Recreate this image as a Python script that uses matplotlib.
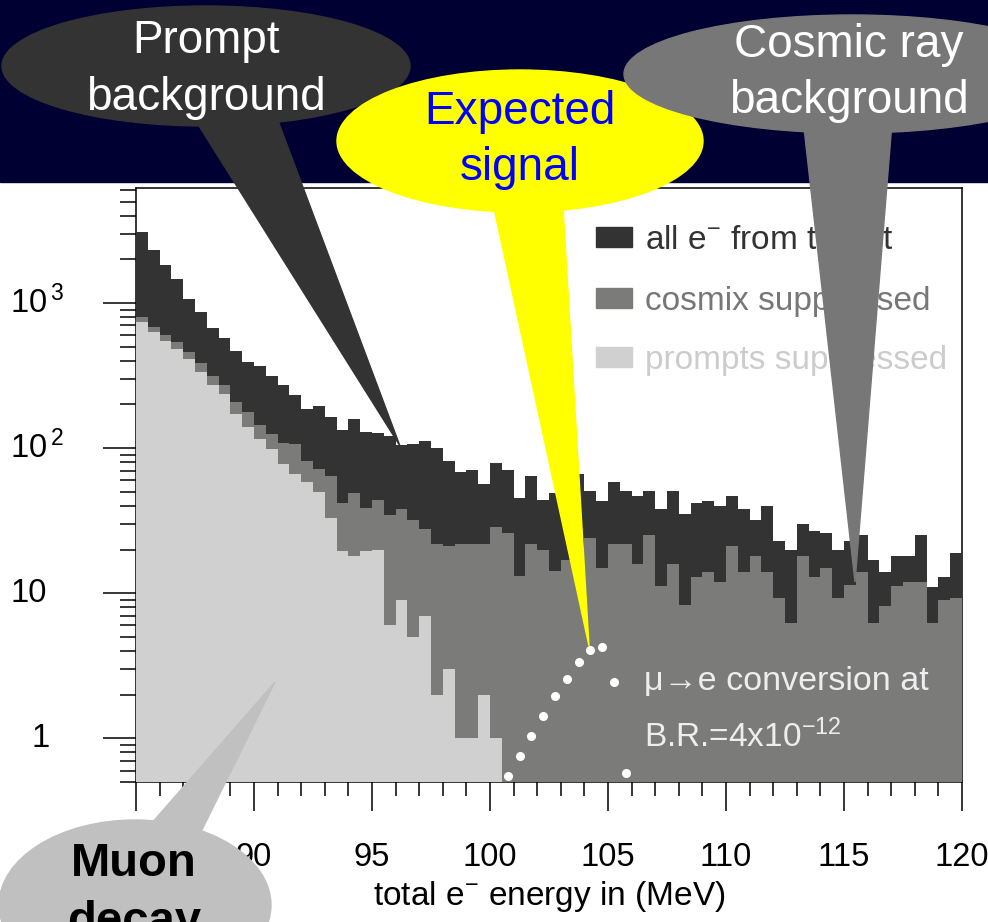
import numpy as np
import matplotlib.pyplot as plt
from matplotlib.patches import Ellipse, Polygon, Rectangle, Patch
from matplotlib.ticker import MultipleLocator, LogLocator, NullFormatter
from matplotlib.transforms import blended_transform_factory

plt.rcParams['font.family'] = ['Liberation Sans', 'DejaVu Sans']
plt.rcParams['mathtext.fontset'] = 'custom'
plt.rcParams['mathtext.rm'] = 'Liberation Sans'
plt.rcParams['mathtext.default'] = 'regular'

# 0.5 MeV bins from 85 to 120 MeV
edges = np.arange(85, 120.01, 0.5)

all_e = [3100, 2320, 1840, 1470, 1070, 860, 670, 573, 469, 391,
         366, 312, 272, 233, 186, 194, 165, 133, 159, 130,
         127, 121, 105, 107, 112, 100, 81, 68, 71, 57,
         79, 71, 45, 64, 44, 49, 55, 66, 51, 43,
         58, 51, 47, 51, 38, 51, 35, 42, 43, 40,
         47, 38, 32, 40, 23, 20, 30, 27, 26, 20,
         23, 25, 17, 14, 18, 18, 25, 11, 13, 19]
cosmix = [806, 688, 606, 536, 461, 384, 316, 270, 209, 177,
          145, 126, 108, 107, 81, 72, 64, 42, 49, 38.6,
          43.9, 34.4, 38.1, 31.8, 27.5, 22, 21, 22, 22, 22,
          28.7, 26.1, 13.2, 22, 20, 14.2, 17, 19, 24, 15,
          22, 22, 16, 25, 11.3, 16, 8.3, 13, 14, 12,
          21, 14, 18, 14, 9.2, 6.2, 18, 13, 15, 9.2,
          11.4, 14, 6.2, 8.1, 11.2, 12, 12, 6.2, 9, 9.2]
prompts = [740, 632, 546, 484, 408, 332, 272, 236, 172, 139,
           116, 98, 78, 66, 58, 50, 33, 19.5, 18, 19.5,
           20, 6, 9, 5, 7, 2, 3, 1, 1, 2,
           1, 0, 0, 0, 0, 0, 0, 0, 0, 0,
           0, 0, 0, 0, 0, 0, 0, 0, 0, 0,
           0, 0, 0, 0, 0, 0, 0, 0, 0, 0,
           0, 0, 0, 0, 0, 0, 0, 0, 0, 0]

# mu -> e conversion signal (B.R. = 4e-12)
sig_E = [100.75, 101.25, 101.75, 102.25, 102.75, 103.25,
         103.75, 104.25, 104.75, 105.25, 105.75]
sig_N = [0.55, 0.76, 1.04, 1.42, 1.95, 2.55, 3.35, 4.03, 4.23, 2.44, 0.575]

labels = ['all e$^{-}$ from target', 'cosmix suppressed', 'prompts suppressed']
fill_colors = ['#333333', '#7b7c7a', '#d0d0d0']
text_colors = ['#333333', '#777777', '#cccccc']
xtick_vals = [85, 90, 95, 100, 105, 110, 115, 120]
xtick_labels = ['', '90', '95', '100', '105', '110', '115', '120']  # 85 hidden by bubble

W, H = 988, 922
fig = plt.figure(figsize=(W / 100, H / 100), dpi=100)


def px(x0, y0, x1, y1):
    return [x0 / W, 1 - y1 / H, (x1 - x0) / W, (y1 - y0) / H]


# slide background band
bg = fig.add_axes([0, 0, 1, 1], zorder=-1)
bg.set_xlim(0, W)
bg.set_ylim(H, 0)
bg.axis('off')
bg.add_patch(Rectangle((0, 0), W, 182, color='#000033'))

ax = fig.add_axes(px(136, 188, 962, 782))
ax.set_yscale('log')
for vals, c, z in zip([all_e, cosmix, prompts], fill_colors, [3, 3.1, 3.2]):
    ax.stairs(np.clip(vals, 0.01, None), edges, fill=True, color=c,
              baseline=0.01, zorder=z)
ax.plot(sig_E, sig_N, 'o', color='white', ms=5.5, mec='white', zorder=4)

ax.set_xlim(85, 120)
ax.set_ylim(0.5, 6200)
ax.set_xticks(xtick_vals, xtick_labels)
ax.xaxis.set_minor_locator(MultipleLocator(1))
ax.yaxis.set_major_locator(LogLocator(base=10, numticks=10))
ax.yaxis.set_minor_locator(LogLocator(base=10, subs=np.arange(2, 10), numticks=20))
ax.yaxis.set_minor_formatter(NullFormatter())
ax.tick_params(axis='x', which='major', direction='out', length=21, width=1.1,
               labelsize=23.5, pad=22)
ax.tick_params(axis='x', which='minor', direction='out', length=10, width=1.1)
ax.tick_params(axis='y', which='major', direction='out', length=24, width=1.1,
               labelleft=False)
ax.tick_params(axis='y', which='minor', direction='out', length=11.5, width=1.1)
for s in ax.spines.values():
    s.set_linewidth(1.1)

ax.set_xlabel('total e$^{-}$ energy in (MeV)', fontsize=24)
ax.xaxis.set_label_coords(0.5, (782 - 879) / 594)

trans = blended_transform_factory(fig.transFigure, ax.transData)
for v, s, x in [(1000, '10$^{\\,3}$', 10), (100, '10$^{\\,2}$', 10),
                (10, '10', 10), (1, '1', 31)]:
    ax.text(x / W, v, s, transform=trans, ha='left', va='center',
            fontsize=23.5, clip_on=False)

handles = [Patch(facecolor=c, edgecolor=c) for c in fill_colors]
leg = ax.legend(handles, labels, loc='upper left',
                bbox_to_anchor=(596 / W, 1 - 223 / H),
                bbox_transform=fig.transFigure, frameon=False, fontsize=24,
                handlelength=1.08, handleheight=0.55, handletextpad=0.4,
                labelspacing=0.84, borderpad=0, borderaxespad=0)
for t, c in zip(leg.get_texts(), text_colors):
    t.set_color(c)
leg.set_zorder(5)

ax.text(644 / W, 1 - 682 / H, 'μ→e conversion at', transform=fig.transFigure,
        color='#eeeeee', fontsize=24.5, ha='left', va='center', zorder=5)
ax.text(644 / W, 1 - 737 / H, 'B.R.=4x10$^{-12}$', transform=fig.transFigure,
        color='#eeeeee', fontsize=24, ha='left', va='center', zorder=5)

# callout bubbles
ov = fig.add_axes([0, 0, 1, 1], zorder=10)
ov.set_xlim(0, W)
ov.set_ylim(H, 0)
ov.axis('off')

ov.add_patch(Ellipse((135, 905), 272, 170, color='#c0c0c0', zorder=1))
ov.add_patch(Polygon([(137, 840), (197, 840), (275, 682)], color='#c0c0c0', zorder=1))
ov.text(134, 876, 'Muon', ha='center', va='baseline', fontsize=34,
        fontweight='bold', color='black', zorder=1.5)
ov.text(134, 934, 'decay', ha='center', va='baseline', fontsize=34,
        fontweight='bold', color='black', zorder=1.5)

ov.add_patch(Ellipse((206, 66), 408, 120, color='#333333', zorder=2))
ov.add_patch(Polygon([(189, 110), (274, 110), (400, 446)], color='#333333', zorder=2))
ov.text(206, 53, 'Prompt', ha='center', va='baseline', fontsize=33,
        color='white', zorder=2.5)
ov.text(206, 110, 'background', ha='center', va='baseline', fontsize=33,
        color='white', zorder=2.5)

ov.add_patch(Ellipse((520, 141), 366, 142, color='#ffff00', zorder=3))
ov.add_patch(Polygon([(490, 190), (562, 190), (589, 646)], color='#ffff00', zorder=3))
ov.text(520, 124, 'Expected', ha='center', va='baseline', fontsize=33,
        color='#0000ff', zorder=3.5)
ov.text(520, 180, 'signal', ha='center', va='baseline', fontsize=33,
        color='#0000ff', zorder=3.5)

ov.add_patch(Ellipse((852, 74), 456, 118, color='#777777', zorder=4))
ov.add_patch(Polygon([(802, 110), (893, 110), (855, 582)], color='#777777', zorder=4))
ov.text(849, 57, 'Cosmic ray', ha='center', va='baseline', fontsize=33,
        color='white', zorder=4.5)
ov.text(849, 113, 'background', ha='center', va='baseline', fontsize=33,
        color='white', zorder=4.5)

fig.savefig('out.png', dpi=100)
